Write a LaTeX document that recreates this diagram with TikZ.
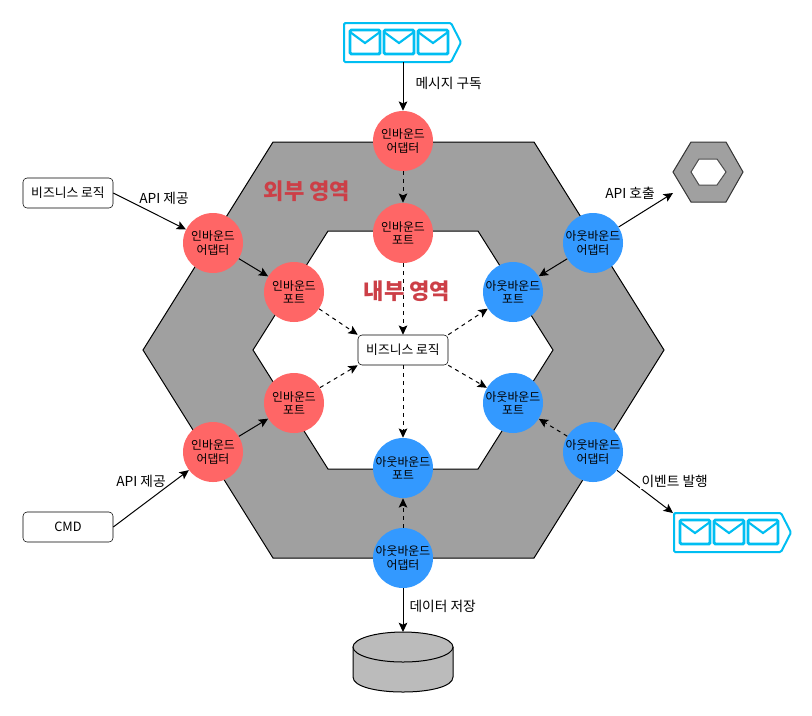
\documentclass[tikz,border=0pt]{standalone}
\usepackage{fontspec}
\usepackage{tikz}
\usetikzlibrary{arrows.meta}
\newfontfamily\kofont{Noto Sans CJK KR}
\definecolor{hexgray}{HTML}{A0A0A0}
\definecolor{dbgray}{HTML}{BBBBBB}
\definecolor{inred}{HTML}{FF6666}
\definecolor{outblue}{HTML}{3399FF}
\definecolor{msgcyan}{HTML}{00BEF2}
\definecolor{zonered}{HTML}{CC3F47}
\tikzset{
  inport/.style={circle, fill=inred, minimum size=45pt, inner sep=0pt, align=center, font=\kofont\fontsize{8.9}{10}\selectfont},
  outport/.style={inport, fill=outblue},
  logicbox/.style={draw, rounded corners=3pt, fill=white, minimum width=67.5pt, minimum height=22.5pt, inner sep=0pt, font=\kofont\fontsize{9.6}{11}\selectfont},
  edgetext/.style={font=\kofont\fontsize{10.3}{12}\selectfont, inner sep=1pt},
  zonetext/.style={font=\kofont\bfseries\fontsize{16.6}{19}\selectfont, text=zonered},
  flow/.style={line width=0.75pt, -{Stealth[length=7pt,width=6.5pt,inset=1.5pt]}},
  dashflow/.style={flow, dashed},
  msgqueue/.pic={
    \draw[msgcyan, line width=1.5pt, rounded corners=1pt] (0,0) -- (107,0) -- (117,19.5) -- (107,39) -- (0,39) -- cycle;
    \foreach \ex in {6,40,74} {
      \draw[msgcyan, line width=2.2pt, rounded corners=1pt] (\ex,7) rectangle (\ex+30,31);
      \draw[msgcyan, line width=1.6pt] (\ex,9) -- (\ex+15,20) -- (\ex+30,9);
    }
  }
}
\begin{document}
\begin{tikzpicture}[x=0.75pt, y=-0.75pt]
\useasboundingbox (0,0) rectangle (812,715);
\fill[white] (0,0) rectangle (812,715);

% Hexagon zones
\draw[fill=hexgray, line width=0.75pt] (273,142) -- (534,142) -- (664,350) -- (534,558) -- (273,558) -- (143,350) -- cycle;
\draw[fill=white, line width=0.75pt] (328,231) -- (478,231) -- (553,350) -- (478,469) -- (328,469) -- (253,350) -- cycle;
\node[zonetext] (outerzone) at (307,191) {외부 영역};
\node[zonetext] (innerzone) at (407,291) {내부 영역};

% Outside things
\pic at (344,23) {msgqueue};
\pic at (674,513) {msgqueue};
\draw[fill=hexgray, draw=black!80, line width=0.75pt] (691,142) -- (726,142) -- (743,172) -- (726,202) -- (691,202) -- (673,172) -- cycle;
\draw[fill=white, draw=black!70, line width=0.75pt] (699,159) -- (717,159) -- (726,172) -- (717,185) -- (699,185) -- (691,172) -- cycle;
\draw[fill=dbgray, line width=0.75pt] (353,647) -- (353,677) .. controls (353,697) and (453,697) .. (453,677) -- (453,647);
\draw[fill=dbgray, line width=0.75pt] (403,647) ellipse [x radius=50, y radius=15];
\coordinate (msgin) at (403,62);
\coordinate (msgout) at (673,513);
\coordinate (apiout) at (673,193);
\coordinate (dbtop) at (403,632);

% Inbound side
\node[inport] (topadapter) at (403,141) {인바운드\\어댑터};
\node[inport] (topport) at (403,233) {인바운드\\포트};
\node[inport] (upadapter) at (213,243) {인바운드\\어댑터};
\node[inport] (upport) at (294,292) {인바운드\\포트};
\node[inport] (lowadapter) at (213,452) {인바운드\\어댑터};
\node[inport] (lowport) at (294,403) {인바운드\\포트};

% Outbound side
\node[outport] (rupadapter) at (593,243) {아웃바운드\\어댑터};
\node[outport] (rupport) at (513,292) {아웃바운드\\포트};
\node[outport] (rlowadapter) at (593,452) {아웃바운드\\어댑터};
\node[outport] (rlowport) at (513,403) {아웃바운드\\포트};
\node[outport] (botport) at (403,468) {아웃바운드\\포트};
\node[outport] (botadapter) at (403,558) {아웃바운드\\어댑터};

% Boxes
\node[logicbox] (logic) at (403,350) {비즈니스 로직};
\node[logicbox] (logicin) at (68,193) {비즈니스 로직};
\node[logicbox] (cmd) at (68,527) {CMD};

% Connectors
\draw[flow] (msgin) -- (topadapter);
\draw[dashflow] (topadapter) -- (topport);
\draw[dashflow] (topport) -- (logic);
\draw[dashflow] (logic) -- (botport);
\draw[dashflow] (botadapter) -- (botport);
\draw[flow] (botadapter) -- (dbtop);
\draw[flow] (logicin.east) -- (upadapter);
\draw[flow] (cmd.east) -- (lowadapter);
\draw[flow] (upadapter) -- (upport);
\draw[flow] (lowadapter) -- (lowport);
\draw[dashflow] (upport) -- (logic.north west);
\draw[dashflow] (lowport) -- (logic.south west);
\draw[dashflow] (logic.north east) -- (rupport);
\draw[dashflow] (logic.south east) -- (rlowport);
\draw[flow] (rupadapter) -- (rupport);
\draw[dashflow] (rlowadapter) -- (rlowport);
\draw[flow] (rupadapter) -- (apiout);
\draw[flow] (rlowadapter) -- (msgout);

% Labels
\node[edgetext, anchor=west] (subtext) at (414,83) {메시지 구독};
\node[edgetext] (apiin1) at (164,198) {API 제공};
\node[edgetext] (apiin2) at (141,481) {API 제공};
\node[edgetext] (apicall) at (630,193) {API 호출};
\node[edgetext, fill=white, anchor=west] (eventtext) at (640,481) {이벤트 발행};
\node[edgetext, anchor=west] (savetext) at (408,606) {데이터 저장};
\end{tikzpicture}
\end{document}
